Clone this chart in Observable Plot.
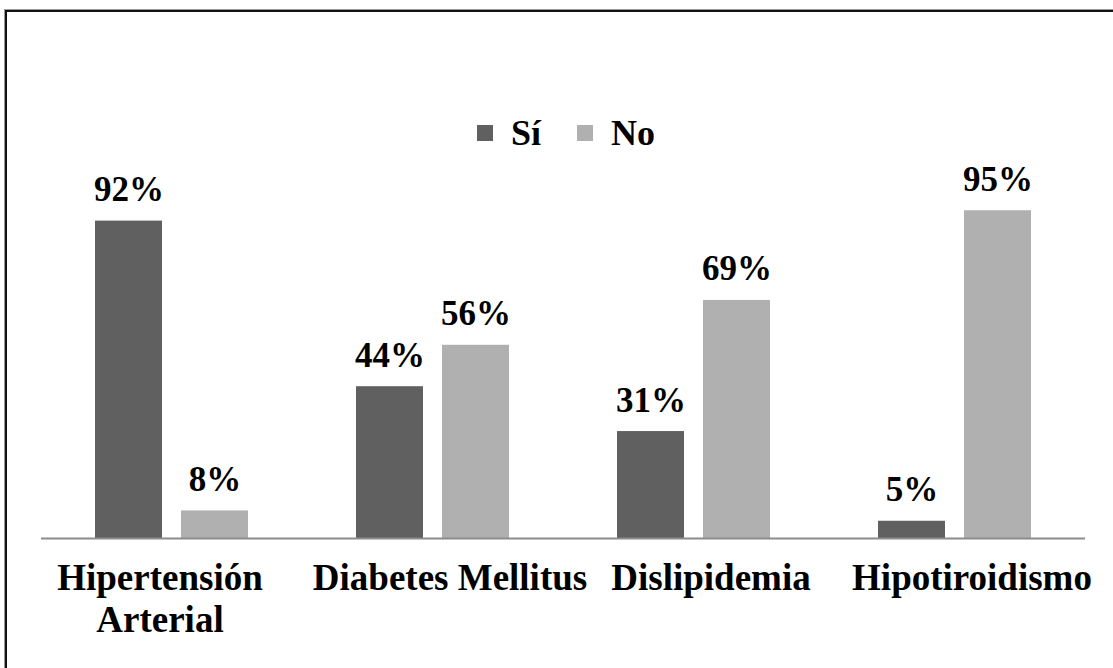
<!DOCTYPE html>
<html><head><meta charset="utf-8">
<script src="https://cdn.jsdelivr.net/npm/d3@7"></script>
<script src="https://cdn.jsdelivr.net/npm/@observablehq/plot@0.6"></script>
<style>
html,body{margin:0;padding:0;background:#fff;width:1113px;height:668px;overflow:hidden;position:relative}
#frame{position:absolute;left:5px;top:10px;right:-4px;bottom:-4px;border-left:2px solid #111;border-top:2px solid #111;box-shadow:-1px -1px 0 #999;}
#legend{position:absolute;left:477px;top:112px;white-space:nowrap;}
#legend div, #legend span{font-family:"Liberation Serif","Times New Roman",serif !important;font-weight:bold !important;font-size:36px !important;color:#000 !important;}
#chart{position:absolute;left:0;top:160px;}
</style></head><body>
<div id="frame"></div><div id="legend"></div><div id="chart"></div>
<script>
const categories = ["Hipertensión Arterial", "Diabetes Mellitus", "Dislipidemia", "Hipotiroidismo"];
const categoryLabels = ["Hipertensión\nArterial", "Diabetes Mellitus", "Dislipidemia", "Hipotiroidismo"];
const series = ["Sí", "No"];
const siValues = [92, 44, 31, 5];
const noValues = [8, 56, 69, 95];
const colors = ["#606060", "#b0b0b0"];

const data = categories.flatMap((c, i) => [
  {category: c, serie: series[0], value: siValues[i]},
  {category: c, serie: series[1], value: noValues[i]}
]);
const labels = categories.map((c, i) => ({category: c, label: categoryLabels[i]}));
const font = '"Liberation Serif","Times New Roman",serif';
const labelStyle = {fx: "category", text: "label", frameAnchor: "bottom", lineAnchor: "top", dy: 21, fontSize: 37, fontWeight: "bold", fill: "#000", lineHeight: 1.15};

const chart = Plot.plot({
  width: 1113, height: 508,
  marginLeft: 41, marginRight: 28, marginTop: 33, marginBottom: 130,
  style: {fontFamily: font, fontWeight: "bold", fontSize: "36px", color: "#000", background: "transparent"},
  fx: {domain: categories, axis: null, paddingInner: 0.406, paddingOuter: 0.203},
  x: {domain: series, axis: null, paddingInner: 0.218, paddingOuter: 0},
  y: {domain: [0, 100], axis: null},
  color: {domain: series, range: colors},
  marks: [
    Plot.barY(data, {fx: "category", x: "serie", y: "value", fill: "serie"}),
    Plot.ruleY([0], {stroke: "#8c8c8c", strokeWidth: 2, insetLeft: -53, insetRight: -53}),
    Plot.text(data, {fx: "category", x: "serie", y: "value", text: d => d.value + "%", lineAnchor: "bottom", dy: -20, fontSize: 35, fontWeight: "bold", fill: "#000"}),
    Plot.text(labels.filter(d => d.label.includes("\n")), {...labelStyle, dx: -12}),
    Plot.text(labels.filter(d => !d.label.includes("\n")), {...labelStyle, dx: 17})
  ]
});
document.getElementById("chart").appendChild(chart);
const leg = chart.legend("color", {swatchSize: 16, style: {fontFamily: font, fontWeight: "bold", fontSize: "36px", color: "#000"}});
document.getElementById("legend").appendChild(leg);
</script>
</body></html>
